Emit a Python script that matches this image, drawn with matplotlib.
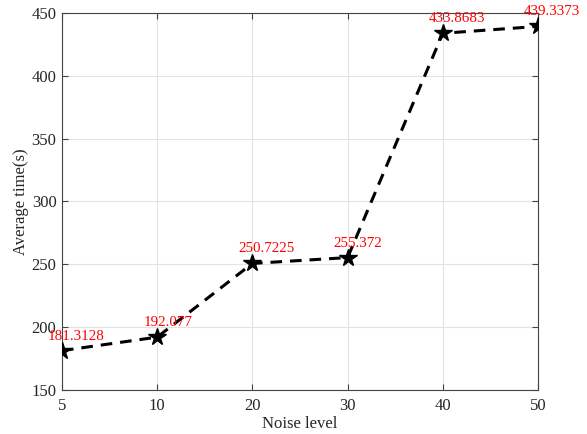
import matplotlib
matplotlib.use('Agg')
import matplotlib.pyplot as plt

noise_levels = ['5', '10', '20', '30', '40', '50']
avg_time = [181.3128, 192.077, 250.7225, 255.372, 433.8683, 439.3373]
value_labels = ['181.3128', '192.077', '250.7225', '255.372', '433.8683', '439.3373']
y_ticks = [150, 200, 250, 300, 350, 400, 450]

plt.rcParams['font.family'] = ['Liberation Serif', 'DejaVu Serif']

fig = plt.figure(figsize=(5.87, 4.34), dpi=100)
ax = fig.add_axes((62 / 587, 1 - 390 / 434, 476 / 587, 377 / 434))

xs = list(range(len(noise_levels)))
ax.plot(xs, avg_time, color='black', linestyle=(0, (3.8, 2.6)), linewidth=2.2,
        marker='*', markersize=13, zorder=3)

# value labels, left edge a bit left of the point, sitting just above it
for x, y, lab in zip(xs, avg_time, value_labels):
    ax.annotate(lab, (x, y), xytext=(-14, 8), textcoords='offset pixels',
                ha='left', va='bottom', color='red', fontsize=10.8, zorder=4)

ax.set_xlim(0, len(noise_levels) - 1)
ax.set_ylim(150, 450)
ax.set_xticks(xs)
ax.set_xticklabels(noise_levels)
ax.set_yticks(y_ticks)

ax.grid(True, color='#e3e3e3', linewidth=0.8)
ax.set_axisbelow(True)
for s in ax.spines.values():
    s.set_color('#444444')
    s.set_linewidth(0.8)
ax.tick_params(direction='in', top=True, right=True, length=4, width=0.8,
               color='#444444', labelsize=12, labelcolor='#262626')
ax.tick_params(axis='x', pad=6)
ax.tick_params(axis='y', pad=4)

ax.set_xlabel('Noise level', fontsize=12, color='#262626', labelpad=1)
ax.set_ylabel('Average time(s)', fontsize=12, color='#262626', labelpad=2)

fig.savefig('out.png', dpi=100)
